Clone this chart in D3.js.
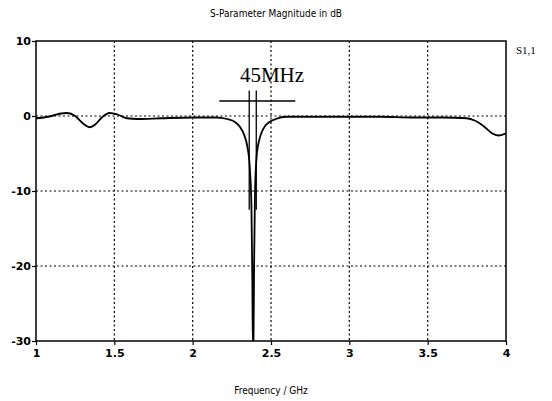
<!DOCTYPE html>
<html>
<head>
<meta charset="utf-8">
<script src="https://cdn.jsdelivr.net/npm/d3@7"></script>
<style>
  body { margin: 0; background: #fff; }
  svg { display: block; }
</style>
</head>
<body>
<svg id="chart" width="552" height="401"></svg>
<script>
// S1,1 (GHz, dB)
var freq = [1.00, 1.05, 1.10, 1.15, 1.20, 1.25, 1.30, 1.34, 1.38, 1.42, 1.47, 1.52, 1.58, 1.65, 1.80, 2.00,
            2.15, 2.22, 2.27, 2.30, 2.33, 2.35, 2.365, 2.375, 2.381, 2.384, 2.388, 2.392, 2.398, 2.41,
            2.425, 2.44, 2.46, 2.49, 2.53, 2.60, 2.80, 3.00, 3.20, 3.40, 3.60, 3.75, 3.80, 3.86, 3.91, 3.95, 4.00];
var s11  = [-0.3, -0.2, 0.0, 0.3, 0.4, 0.0, -1.0, -1.5, -1.1, -0.2, 0.4, 0.2, -0.3, -0.4, -0.3, -0.2,
            -0.2, -0.4, -0.8, -1.4, -2.6, -4.2, -7.0, -12.0, -22.0, -30.5, -30.5, -20.0, -10.0, -5.0,
            -3.2, -2.2, -1.4, -0.8, -0.4, -0.1, -0.1, -0.1, -0.1, -0.2, -0.2, -0.3, -0.6, -1.4, -2.3, -2.6, -2.3];

var xTicks = [1, 1.5, 2, 2.5, 3, 3.5, 4];
var yTicks = [10, 0, -10, -20, -30];

// marker for the 45 MHz bandwidth
var markerF = [2.361, 2.406];
var markerBar = [2.17, 2.655];

var svg = d3.select("#chart");
// note: "top" is taken by window.top, so use other names
var padL = 36, padR = 506, padT = 41, padB = 341;

var x = d3.scaleLinear().domain([1, 4]).range([padL, padR]);
var y = d3.scaleLinear().domain([-30, 10]).range([padB, padT]);

// title
svg.append("text")
  .attr("x", 276).attr("y", 17)
  .attr("text-anchor", "middle")
  .attr("fill", "#000")
  .style("font-family", "DejaVu Sans Condensed, DejaVu Sans")
  .style("font-size", "10px")
  .text("S-Parameter Magnitude in dB");

// grid, dotted
var grid = svg.append("g").attr("stroke", "#000").attr("stroke-width", 1.2).attr("stroke-dasharray", "2,2.5");
grid.selectAll("line.v").data(xTicks.slice(1, -1)).enter().append("line")
  .attr("x1", d => x(d)).attr("x2", d => x(d)).attr("y1", padT).attr("y2", padB);
grid.selectAll("line.h").data(yTicks.slice(1, -1)).enter().append("line")
  .attr("x1", padL).attr("x2", padR).attr("y1", d => y(d)).attr("y2", d => y(d));

// axes (plain hyphen for negatives, like the original)
var xAxis = d3.axisBottom(x).tickValues(xTicks).tickSize(4).tickFormat(d => String(d));
var yAxis = d3.axisLeft(y).tickValues(yTicks).tickSize(4).tickFormat(d => String(d));

var gx = svg.append("g").attr("transform", "translate(0," + padB + ")").call(xAxis);
var gy = svg.append("g").attr("transform", "translate(" + padL + ",0)").call(yAxis);
[gx, gy].forEach(function(g) {
  g.select(".domain").remove();
  g.selectAll("line").attr("stroke", "#000").attr("stroke-width", 1.2);
  g.selectAll("text")
    .style("font-family", "DejaVu Sans")
    .style("font-size", "11px")
    .style("font-weight", "bold")
    .attr("fill", "#000");
});
gx.selectAll("text").attr("dy", "0.9em").attr("y", 6);
gy.selectAll("text").attr("x", -5);

// frame
svg.append("rect")
  .attr("x", padL).attr("y", padT)
  .attr("width", padR - padL).attr("height", padB - padT)
  .attr("fill", "none").attr("stroke", "#000").attr("stroke-width", 1.5);

// curve
svg.append("clipPath").attr("id", "clip")
  .append("rect").attr("x", padL).attr("y", padT).attr("width", padR - padL).attr("height", padB - padT);

var line = d3.line()
  .x((d, i) => x(freq[i]))
  .y(d => y(d))
  .curve(d3.curveMonotoneX);

svg.append("path")
  .datum(s11)
  .attr("clip-path", "url(#clip)")
  .attr("d", line)
  .attr("fill", "none")
  .attr("stroke", "#000")
  .attr("stroke-width", 1.8);

// 45MHz marker
var mk = svg.append("g").attr("stroke", "#000").attr("stroke-width", 1.3);
mk.append("line")
  .attr("x1", x(markerBar[0])).attr("x2", x(markerBar[1]))
  .attr("y1", y(2)).attr("y2", y(2));
mk.selectAll("line.m").data(markerF).enter().append("line")
  .attr("x1", d => x(d)).attr("x2", d => x(d))
  .attr("y1", y(3.4)).attr("y2", y(-12.5));

svg.append("text")
  .attr("x", 272).attr("y", 82)
  .attr("text-anchor", "middle")
  .attr("fill", "#000")
  .style("font-family", "Liberation Serif")
  .style("font-size", "21px")
  .text("45MHz");

// series label
svg.append("text")
  .attr("x", 516).attr("y", 54)
  .attr("fill", "#000")
  .style("font-family", "Liberation Serif")
  .style("font-size", "11px")
  .text("S1,1");

// x label
svg.append("text")
  .attr("x", 271).attr("y", 394)
  .attr("text-anchor", "middle")
  .attr("fill", "#000")
  .style("font-family", "DejaVu Sans Condensed, DejaVu Sans")
  .style("font-size", "10px")
  .text("Frequency / GHz");
</script>
</body>
</html>
